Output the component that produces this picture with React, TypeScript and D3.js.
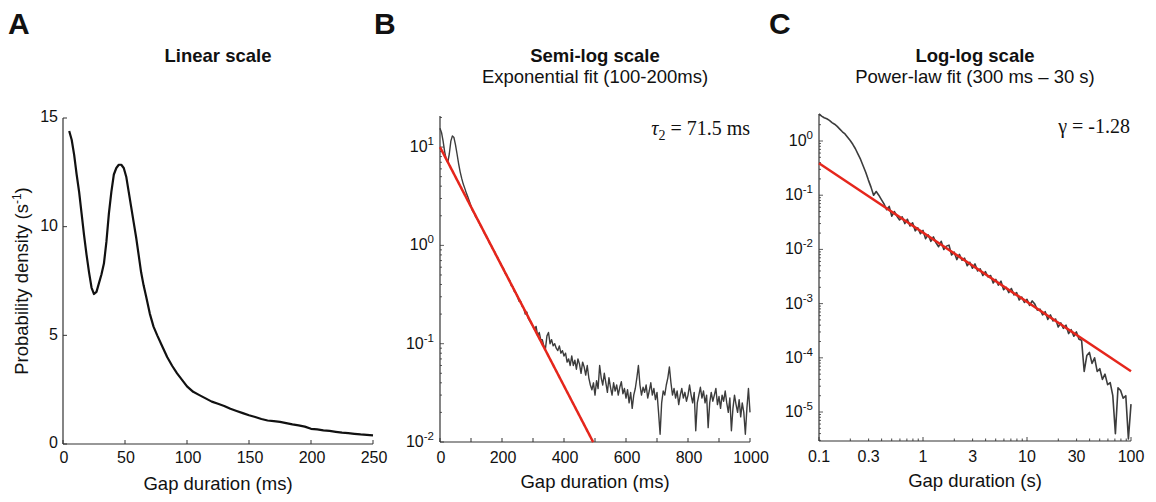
import React from "react";
import * as d3 from "d3";

// ---------- text content ----------
const panelLetters = ["A", "B", "C"];
const panelTitles = ["Linear scale", "Semi-log scale", "Log-log scale"];
const panelSubtitles = ["", "Exponential fit (100-200ms)", "Power-law fit (300 ms \u2013 30 s)"];
const xAxisLabels = ["Gap duration (ms)", "Gap duration (ms)", "Gap duration (s)"];

// ---------- Panel A: linear scale (smoothed density) ----------
const gapA_ms = [5, 7, 9, 11, 13, 15, 17, 19, 21, 23, 25, 27, 29, 31, 33, 35, 37, 39, 41, 43, 45, 47, 49, 51, 53, 55, 57, 59, 61, 63, 65, 67, 70, 73, 76, 80, 84, 88, 92, 96, 100, 105, 110, 115, 120, 125, 130, 135, 140, 145, 150, 155, 160, 165, 170, 175, 180, 185, 190, 195, 200, 205, 210, 215, 220, 225, 230, 235, 240, 245, 250];
const densityA = [14.4, 14.0, 13.3, 12.4, 11.6, 10.6, 9.6, 8.7, 7.9, 7.2, 6.9, 7.0, 7.4, 7.8, 8.3, 9.3, 10.6, 11.6, 12.4, 12.7, 12.85, 12.85, 12.7, 12.3, 11.6, 10.9, 10.2, 9.5, 8.7, 7.9, 7.3, 6.8, 6.0, 5.4, 5.0, 4.5, 4.0, 3.6, 3.25, 2.95, 2.65, 2.4, 2.25, 2.1, 1.95, 1.85, 1.75, 1.62, 1.52, 1.42, 1.32, 1.24, 1.15, 1.08, 1.05, 1.02, 0.96, 0.9, 0.86, 0.8, 0.7, 0.67, 0.63, 0.6, 0.56, 0.52, 0.5, 0.47, 0.44, 0.42, 0.4];
const ticksAx = [0, 50, 100, 150, 200, 250];
const ticksAy = [0, 5, 10, 15];

// ---------- Panel B: semi-log (5 ms bins from 0 to 1000 ms) ----------
const binStepB_ms = 5;
const densityB = [
  15.5, 14.0, 11.5, 9.0, 7.5, 7.0, 8.5, 11.5, 13.0, 12.5,
  10.5, 8.5, 6.8, 5.6, 4.8, 4.2, 3.8, 3.4, 3.1, 2.8,
  2.5, 2.25, 2.15, 1.95, 1.85, 1.75, 1.6, 1.52, 1.4, 1.3,
  1.22, 1.15, 1.05, 1.0, 0.92, 0.88, 0.8, 0.76, 0.7, 0.66,
  0.61, 0.58, 0.52, 0.5, 0.46, 0.44, 0.39, 0.38, 0.34, 0.33,
  0.3, 0.27, 0.27, 0.24, 0.23, 0.2, 0.21, 0.18, 0.17, 0.16,
  0.15, 0.14, 0.15, 0.12, 0.13, 0.11, 0.11, 0.095, 0.088, 0.12,
  0.13, 0.1, 0.11, 0.095, 0.1, 0.09, 0.085, 0.095, 0.08, 0.085,
  0.075, 0.08, 0.065, 0.07, 0.06, 0.075, 0.06, 0.068, 0.055, 0.07,
  0.062, 0.05, 0.065, 0.058, 0.048, 0.06, 0.045, 0.038, 0.034, 0.04,
  0.03, 0.042, 0.035, 0.06, 0.045, 0.038, 0.05, 0.04, 0.032, 0.045,
  0.036, 0.03, 0.04, 0.033, 0.038, 0.03, 0.036, 0.041, 0.031, 0.035,
  0.028, 0.034, 0.025, 0.032, 0.022, 0.03, 0.035, 0.045, 0.06, 0.038,
  0.03, 0.036, 0.032, 0.038, 0.028, 0.033, 0.04, 0.03, 0.035, 0.027,
  0.032, 0.02, 0.012, 0.025, 0.033, 0.03, 0.038, 0.045, 0.058, 0.04,
  0.03, 0.035, 0.028, 0.033, 0.024, 0.03, 0.035, 0.028, 0.032, 0.026,
  0.03, 0.038, 0.03, 0.025, 0.032, 0.013, 0.025, 0.03, 0.036, 0.028,
  0.033, 0.025, 0.03, 0.014, 0.025, 0.032, 0.026, 0.03, 0.035, 0.024,
  0.029, 0.022, 0.03, 0.026, 0.033, 0.025, 0.02, 0.028, 0.013, 0.022,
  0.03, 0.024, 0.02, 0.027, 0.018, 0.025, 0.02, 0.012, 0.022, 0.035,
  0.02,
];
const fitTauB_ms = 71.5;
const fitAmpB = 10;
const fitSpanB_ms = [0, 494];
const ticksBx = [0, 100, 200, 300, 400, 500, 600, 700, 800, 900, 1000];
const labelsBx = [0, 200, 400, 600, 800, 1000];
const decadesBy = [-2, -1, 0, 1];

// ---------- Panel C: log-log (log-spaced bins, 0.025 decade, 0.1 s to 100 s) ----------
const logBinStartC = -1;
const logBinStepC = 0.025;
const densityC = [
  3.16, 2.88, 2.69, 2.57, 2.40, 2.19, 2.04, 1.86,
  1.66, 1.48, 1.35, 1.17, 1.02, 0.87, 0.72, 0.575,
  0.457, 0.347, 0.263, 0.19, 0.141, 0.10, 0.117, 0.10,
  0.083, 0.069, 0.054, 0.062, 0.041, 0.050, 0.041, 0.035,
  0.040, 0.030, 0.036, 0.027, 0.031, 0.022, 0.025, 0.0195,
  0.0224, 0.0158, 0.0186, 0.0141, 0.0170, 0.0132, 0.0112, 0.0141,
  0.0100, 0.0115, 0.0120, 0.0079, 0.0089, 0.0065, 0.0081, 0.0063,
  0.0069, 0.0050, 0.0058, 0.0045, 0.0054, 0.0040, 0.0044, 0.0033,
  0.0039, 0.0031, 0.0033, 0.0024, 0.0028, 0.0022, 0.0026, 0.0018,
  0.0020, 0.0016, 0.0019, 0.00145, 0.0016, 0.00117, 0.00132, 0.00105,
  0.00120, 0.00093, 0.00112, 0.00098, 0.00076, 0.00079, 0.00062, 0.00071,
  0.00051, 0.00062, 0.00048, 0.00052, 0.00037, 0.00044, 0.00035, 0.00040,
  0.00028, 0.00033, 0.00025, 0.00030, 0.00022, 0.00021, 5.6e-5, 1.1e-4,
  1.26e-4, 7.9e-5, 1.0e-4, 5.6e-5, 6.3e-5, 4.0e-5, 5.0e-5, 3.2e-5,
  3.5e-5, 2.0e-5, 4.0e-6, 2.8e-5, 2.5e-5, 1.8e-5, 2.0e-5, 3.2e-6,
  1.4e-5,
];
const fitGammaC = -1.28;
const fitAmpC = 0.39; // value of the fit at 0.1 s
const fitSpanC_s = [0.1, 100];
const labelsCx = [0.1, 0.3, 1, 3, 10, 30, 100];
const labelTextsCx = ["0.1", "0.3", "1", "3", "10", "30", "100"];
const decadesCy = [0, -1, -2, -3, -4, -5];

const SANS = "'Liberation Sans', Arial, Helvetica, sans-serif";
const SERIF = "'Liberation Serif', 'Times New Roman', serif";
const AXIS = "#333";
const DATA_GRAY = "#3c3c3c";
const RED = "#e5261c";

function logTicks(domain: [number, number]) {
  const out: { v: number; major: boolean }[] = [];
  const lo = Math.floor(Math.log10(domain[0]));
  const hi = Math.ceil(Math.log10(domain[1]));
  for (let k = lo; k <= hi; k++) {
    for (let m = 1; m <= 9; m++) {
      const v = m * Math.pow(10, k);
      if (v >= domain[0] * 0.999 && v <= domain[1] * 1.001) out.push({ v, major: m === 1 });
    }
  }
  return out;
}

function Pow10({ x, y, exp }: { x: number; y: number; exp: number }) {
  return (
    <text x={x} y={y} textAnchor="end" fontFamily={SANS} fontSize={16} fill="#111" dominantBaseline="middle">
      <tspan>10</tspan>
      <tspan dy={-6} fontSize={11.5}>{String(exp)}</tspan>
    </text>
  );
}

export default function App() {
  // ---- scales ----
  const xA = d3.scaleLinear().domain([0, 250]).range([63, 373]);
  const yA = d3.scaleLinear().domain([0, 15]).range([444, 118]);
  const xB = d3.scaleLinear().domain([0, 1000]).range([440, 750]);
  const yB = d3.scaleLog().domain([0.01, 20.7]).range([442, 116]);
  const xC = d3.scaleLog().domain([0.1, 100]).range([819, 1131]);
  const yC = d3.scaleLog().domain([2.92e-6, 3.15]).range([441, 114]);

  const lineA = d3.line<number>().x((_, i) => xA(gapA_ms[i])).y((d) => yA(d));
  const lineB = d3.line<number>().x((_, i) => xB(i * binStepB_ms)).y((d) => yB(d));
  const lineC = d3
    .line<number>()
    .x((_, i) => xC(Math.pow(10, logBinStartC + i * logBinStepC)))
    .y((d) => yC(d));
  const fitLineB = d3.line<number>().x((t) => xB(t)).y((t) => yB(fitAmpB * Math.exp(-t / fitTauB_ms)));
  const fitLineC = d3.line<number>().x((t) => xC(t)).y((t) => yC(fitAmpC * Math.pow(t / 0.1, fitGammaC)));

  const ticksBy = logTicks(yB.domain() as [number, number]);
  const ticksCy = logTicks(yC.domain() as [number, number]);
  const ticksCx = logTicks(xC.domain() as [number, number]);

  const panels = [
    { x0: 63, x1: 373, y0: 118, y1: 444 },
    { x0: 440, x1: 750, y0: 116, y1: 442 },
    { x0: 819, x1: 1131, y0: 114, y1: 441 },
  ];
  const letterX = [8, 374, 769];

  return (
    <svg width={1156} height={502} style={{ position: "absolute", left: 0, top: 0, background: "#fff" }}>
      <rect width={1156} height={502} fill="#fff" />
      {/* letters, titles */}
      {panels.map((p, i) => (
        <g key={"hdr" + i}>
          <text x={letterX[i]} y={34} fontFamily={SANS} fontWeight="bold" fontSize={30} fill="#111">
            {panelLetters[i]}
          </text>
          <text x={(p.x0 + p.x1) / 2} y={62} textAnchor="middle" fontFamily={SANS} fontWeight="bold" fontSize={18.5} fill="#111">
            {panelTitles[i]}
          </text>
          {panelSubtitles[i] && (
            <text x={(p.x0 + p.x1) / 2} y={83} textAnchor="middle" fontFamily={SANS} fontSize={18.5} fill="#111">
              {panelSubtitles[i]}
            </text>
          )}
          <line x1={p.x0} x2={p.x0} y1={p.y0} y2={p.y1} stroke={AXIS} strokeWidth={1.2} />
          <line x1={p.x0} x2={p.x1} y1={p.y1} y2={p.y1} stroke={AXIS} strokeWidth={1.2} />
          <text x={(p.x0 + p.x1) / 2} y={p.y1 + 46} textAnchor="middle" fontFamily={SANS} fontSize={18.5} fill="#111">
            {xAxisLabels[i]}
          </text>
        </g>
      ))}

      {/* ---------- Panel A ---------- */}
      {ticksAx.map((t) => (
        <g key={"ax" + t}>
          <line x1={xA(t)} x2={xA(t)} y1={444} y2={440} stroke={AXIS} />
          <text x={xA(t) + 1} y={463} textAnchor="middle" fontFamily={SANS} fontSize={16} fill="#111">{t}</text>
        </g>
      ))}
      {ticksAy.map((t) => (
        <g key={"ay" + t}>
          <line x1={63} x2={67} y1={yA(t)} y2={yA(t)} stroke={AXIS} />
          <text x={58} y={yA(t)} textAnchor="end" dominantBaseline="middle" fontFamily={SANS} fontSize={16} fill="#111">{t}</text>
        </g>
      ))}
      <text transform="translate(28,281) rotate(-90)" textAnchor="middle" fontFamily={SANS} fontSize={18.5} fill="#111">
        <tspan>Probability density (s</tspan>
        <tspan dy={-7} fontSize={12}>-1</tspan>
        <tspan dy={7}>)</tspan>
      </text>
      <path d={lineA(densityA) || ""} fill="none" stroke="#111" strokeWidth={2.2} strokeLinejoin="round" />

      {/* ---------- Panel B ---------- */}
      {ticksBx.map((t) => (
        <line key={"bxt" + t} x1={xB(t)} x2={xB(t)} y1={442} y2={438} stroke={AXIS} />
      ))}
      {labelsBx.map((t) => (
        <text key={"bxl" + t} x={xB(t) + 1} y={463} textAnchor="middle" fontFamily={SANS} fontSize={16} fill="#111">{t}</text>
      ))}
      {ticksBy.map((t, i) => (
        <line key={"byt" + i} x1={440} x2={440 + (t.major ? 4 : 2)} y1={yB(t.v)} y2={yB(t.v)} stroke={AXIS} strokeWidth={0.8} />
      ))}
      {decadesBy.map((k) => (
        <Pow10 key={"byl" + k} x={434} y={yB(Math.pow(10, k)) + 1} exp={k} />
      ))}
      <path d={lineB(densityB) || ""} fill="none" stroke={DATA_GRAY} strokeWidth={1.4} strokeLinejoin="round" />
      <path d={fitLineB(d3.range(fitSpanB_ms[0], fitSpanB_ms[1] + 1, 2)) || ""} fill="none" stroke={RED} strokeWidth={2.5} />
      <text x={750} y={135} textAnchor="end" fontFamily={SERIF} fontSize={20} fill="#111">
        <tspan fontStyle="italic">{"\u03C4"}</tspan>
        <tspan dy={5} fontSize={14}>2</tspan>
        <tspan dy={-5}>{" = 71.5 ms"}</tspan>
      </text>

      {/* ---------- Panel C ---------- */}
      {ticksCx.map((t, i) => (
        <line key={"cxt" + i} x1={xC(t.v)} x2={xC(t.v)} y1={441} y2={441 - (t.major ? 4 : 2.5)} stroke={AXIS} strokeWidth={0.9} />
      ))}
      {labelsCx.map((t, i) => (
        <text key={"cxl" + i} x={xC(t)} y={462} textAnchor="middle" fontFamily={SANS} fontSize={16} fill="#111">{labelTextsCx[i]}</text>
      ))}
      {ticksCy.map((t, i) => (
        <line key={"cyt" + i} x1={819} x2={819 + (t.major ? 4 : 2)} y1={yC(t.v)} y2={yC(t.v)} stroke={AXIS} strokeWidth={0.8} />
      ))}
      {decadesCy.map((k) => (
        <Pow10 key={"cyl" + k} x={813} y={yC(Math.pow(10, k)) + 1} exp={k} />
      ))}
      <path d={lineC(densityC) || ""} fill="none" stroke={DATA_GRAY} strokeWidth={1.6} strokeLinejoin="round" />
      <path d={fitLineC(fitSpanC_s) || ""} fill="none" stroke={RED} strokeWidth={2.5} />
      <text x={1130} y={133} textAnchor="end" fontFamily={SERIF} fontSize={20} fill="#111">
        {"\u03B3 = -1.28"}
      </text>
    </svg>
  );
}
